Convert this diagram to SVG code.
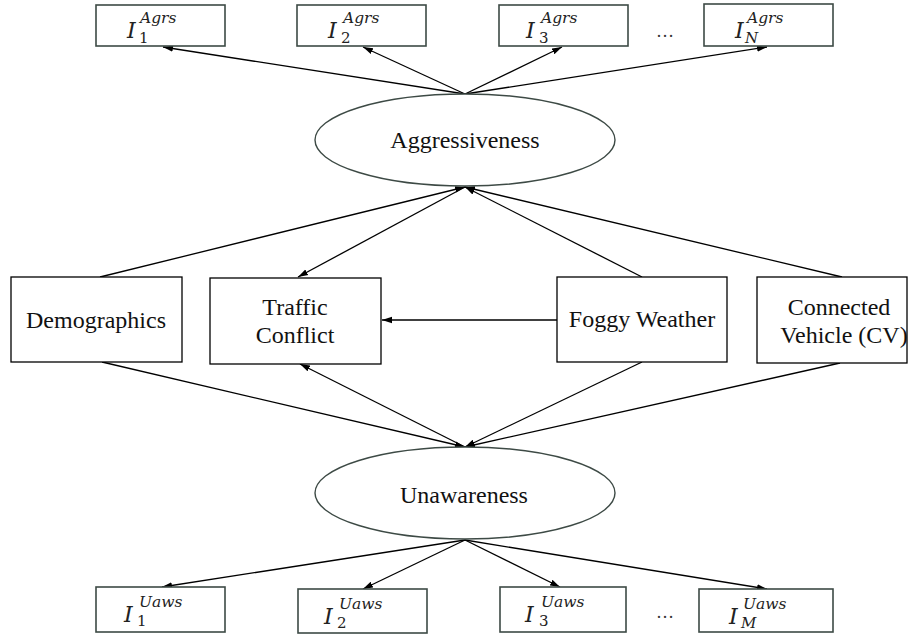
<svg xmlns="http://www.w3.org/2000/svg" width="917" height="638" viewBox="0 0 917 638">
<defs>
<marker id="ah" viewBox="0 0 10 8" refX="10" refY="4" markerWidth="10" markerHeight="8" markerUnits="userSpaceOnUse" orient="auto">
<path d="M0,0.8 L10,4 L0,7.2 z" fill="#000"/>
</marker>
<style>
.ind{fill:#fff;stroke:#3d4a45;stroke-width:1.6}
.box{fill:#fff;stroke:#000;stroke-width:1.3}
.ell{fill:#fff;stroke:#3d4a45;stroke-width:1.4}
.lbl{font-family:"Liberation Serif","Times New Roman",serif;font-size:24px;fill:#111;text-anchor:middle}
.mI{font-family:"DejaVu Serif",serif;font-style:italic;font-size:22px;fill:#222}
.sup{font-family:"DejaVu Serif",serif;font-style:italic;font-size:15.5px;fill:#222}
.sub{font-family:"DejaVu Serif",serif;font-size:15px;fill:#222}
.subi{font-family:"DejaVu Serif",serif;font-style:italic;font-size:15px;fill:#222}
.dots{font-family:"Liberation Serif",serif;font-size:18px;fill:#333;text-anchor:middle}
.ca{stroke:#000;stroke-width:1.3;fill:none;marker-end:url(#ah)}
</style>
</defs>

<g id="connectors">
<line class="ca" x1="465" y1="94" x2="163" y2="47"/>
<line class="ca" x1="465" y1="94" x2="363" y2="47"/>
<line class="ca" x1="465" y1="94" x2="562" y2="47"/>
<line class="ca" x1="465" y1="94" x2="767" y2="47"/>
<line class="ca" x1="100" y1="277" x2="465" y2="187"/>
<line class="ca" x1="465" y1="187" x2="298" y2="277"/>
<line class="ca" x1="642" y1="277" x2="465" y2="187"/>
<line class="ca" x1="842" y1="277" x2="465" y2="187"/>
<line class="ca" x1="557" y1="320" x2="382" y2="320"/>
<line class="ca" x1="102" y1="362" x2="465" y2="447"/>
<line class="ca" x1="465" y1="447" x2="300" y2="364"/>
<line class="ca" x1="642" y1="362" x2="465" y2="447"/>
<line class="ca" x1="840" y1="363" x2="465" y2="447"/>
<line class="ca" x1="465" y1="540" x2="162" y2="587"/>
<line class="ca" x1="465" y1="540" x2="363" y2="589"/>
<line class="ca" x1="465" y1="540" x2="560" y2="587"/>
<line class="ca" x1="465" y1="540" x2="767" y2="589"/>
</g>

<g id="agg1"><rect class="ind" x="96" y="5" width="129" height="41"/>
<text class="mI" x="127" y="38">I</text><text class="sup" x="140" y="23">Agrs</text><text class="sub" x="139" y="43">1</text></g>
<g id="agg2"><rect class="ind" x="297" y="5" width="129" height="41"/>
<text class="mI" x="328" y="38">I</text><text class="sup" x="343" y="23">Agrs</text><text class="sub" x="341" y="43">2</text></g>
<g id="agg3"><rect class="ind" x="499" y="5" width="129" height="41"/>
<text class="mI" x="526" y="38">I</text><text class="sup" x="541" y="23">Agrs</text><text class="sub" x="539" y="43">3</text></g>
<g id="aggdots"><text class="dots" x="665" y="37">…</text></g>
<g id="aggN"><rect class="ind" x="704" y="4" width="129" height="42"/>
<text class="mI" x="735" y="38">I</text><text class="sup" x="747" y="23">Agrs</text><text class="subi" x="745" y="43">N</text></g>

<g id="aggressiveness"><ellipse class="ell" cx="465" cy="140" rx="150" ry="46"/>
<text class="lbl" x="465" y="148">Aggressiveness</text></g>

<g id="demographics"><rect class="box" x="11" y="277" width="171" height="85"/>
<text class="lbl" x="96" y="328">Demographics</text></g>
<g id="traffic"><rect class="box" x="210" y="278" width="171" height="86"/>
<text class="lbl" x="295" y="315">Traffic</text><text class="lbl" x="295" y="343">Conflict</text></g>
<g id="foggy"><rect class="box" x="557" y="277" width="170" height="85"/>
<text class="lbl" x="642" y="327">Foggy Weather</text></g>
<g id="cv"><rect class="box" x="757" y="277" width="150" height="86"/>
<text class="lbl" x="839" y="315">Connected</text><text class="lbl" x="844" y="343">Vehicle (CV)</text></g>

<g id="unawareness"><ellipse class="ell" cx="465" cy="493" rx="150" ry="46"/>
<text class="lbl" x="464" y="503">Unawareness</text></g>

<g id="uaw1"><rect class="ind" x="96" y="587" width="129" height="45"/>
<text class="mI" x="124" y="622">I</text><text class="sup" x="139" y="607">Uaws</text><text class="sub" x="137" y="626">1</text></g>
<g id="uaw2"><rect class="ind" x="298" y="589" width="129" height="44"/>
<text class="mI" x="324" y="624">I</text><text class="sup" x="339" y="609">Uaws</text><text class="sub" x="337" y="628">2</text></g>
<g id="uaw3"><rect class="ind" x="500" y="587" width="126" height="45"/>
<text class="mI" x="525" y="622">I</text><text class="sup" x="541" y="607">Uaws</text><text class="sub" x="539" y="626">3</text></g>
<g id="uawdots"><text class="dots" x="665" y="618">…</text></g>
<g id="uawM"><rect class="ind" x="699" y="589" width="134" height="43"/>
<text class="mI" x="729" y="624">I</text><text class="sup" x="743" y="609">Uaws</text><text class="subi" x="741" y="628">M</text></g>
</svg>
